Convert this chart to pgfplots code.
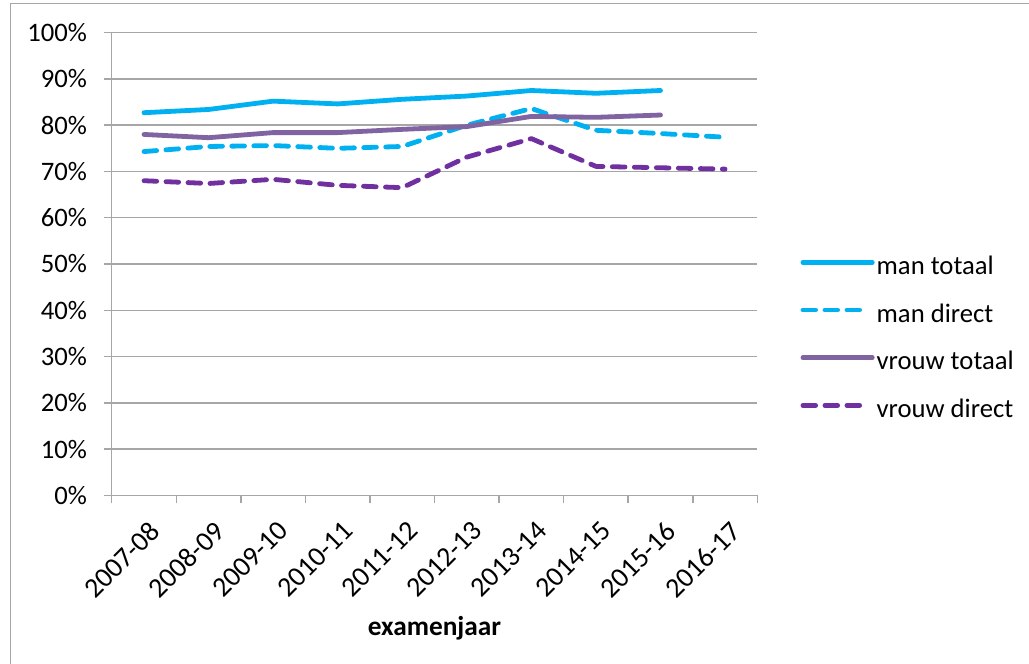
\documentclass[border=0pt]{standalone}
\usepackage{fontspec}
\setmainfont{Carlito}
\usepackage{pgfplots}
\pgfplotsset{compat=1.18}
\definecolor{mancyan}{HTML}{00B0F0}
\definecolor{vtot}{HTML}{8064A2}
\definecolor{vdir}{HTML}{7030A0}
\definecolor{gridgray}{HTML}{A6A6A6}
\pgfplotsset{
  longleg/.style={legend image code/.code={\draw[##1] (0pt,4.5pt) -- (52pt,4.5pt);}},
  shortleg/.style={legend image code/.code={\draw[##1] (0pt,4.5pt) -- (44pt,4.5pt);}},
}
\begin{document}
\begin{tikzpicture}[font=\fontsize{20}{24}\selectfont]
\path[use as bounding box] (0,0) rectangle (771.75pt,498pt);
\draw[gridgray, line width=1.1pt] (7.9pt,0) -- (7.9pt,495.4pt) -- (771.75pt,495.4pt);
\begin{axis}[
  at={(83.8pt,126.5pt)}, anchor=south west,
  scale only axis, width=484.2pt, height=347pt,
  xmin=-0.5, xmax=9.5, ymin=0, ymax=100,
  axis x line*=bottom, axis y line*=left,
  axis line style={draw=gridgray, line width=1.1pt, -},
  ytick={0,10,...,100},
  yticklabels={0\%,10\%,20\%,30\%,40\%,50\%,60\%,70\%,80\%,90\%,100\%},
  yticklabel style={xshift=-9pt},
  ymajorgrids, grid style={draw=gridgray, line width=1.1pt},
  tick align=outside, major tick length=6pt,
  tick style={draw=gridgray, line width=1.1pt},
  xtick={0,...,9},
  xtick style={draw=none},
  xticklabels={2007-08,2008-09,2009-10,2010-11,2011-12,2012-13,2013-14,2014-15,2015-16,2016-17},
  xticklabel style={font=\fontsize{21}{24}\selectfont, xshift=3pt, yshift=-12pt, rotate=45, anchor=north east, inner sep=0pt},
  extra x ticks={-0.5,0.5,...,9.5},
  extra x tick labels={},
  extra x tick style={xtick style={draw=gridgray, line width=1.1pt}, grid=none},
  xlabel={\fontsize{20.5}{24}\selectfont\bfseries examenjaar},
  xlabel style={at={(axis description cs:0.5,0)}, anchor=center, yshift=-99.5pt},
  legend style={at={(1.0665,0.336)}, anchor=west, draw=none, fill=none, inner sep=0pt,
    row sep=18.8pt, nodes={inner sep=0pt, text height=13pt, text depth=4pt}},
  legend cell align=left,
  longleg,
  every axis plot/.append style={line width=3.6pt, line cap=round, line join=round},
]
\addplot[mancyan] coordinates {(0,82.7)(1,83.4)(2,85.2)(3,84.6)(4,85.6)(5,86.3)(6,87.5)(7,86.9)(8,87.5)};
\addlegendentry{\hspace{1.5pt}man totaal}
\addplot[mancyan, dash pattern=on 9.5pt off 7pt, shortleg] coordinates {(0,74.3)(1,75.4)(2,75.6)(3,75.0)(4,75.4)(5,80.0)(6,83.6)(7,78.9)(8,78.2)(9,77.4)};
\addlegendentry{\hspace{1.5pt}man direct}
\addplot[vtot] coordinates {(0,78.0)(1,77.3)(2,78.4)(3,78.4)(4,79.1)(5,79.7)(6,81.9)(7,81.7)(8,82.2)};
\addlegendentry{\hspace{1.5pt}vrouw totaal}
\addplot[vdir, dash pattern=on 9.5pt off 7pt, shortleg] coordinates {(0,68.0)(1,67.4)(2,68.3)(3,67.0)(4,66.5)(5,73.1)(6,77.1)(7,71.1)(8,70.8)(9,70.5)};
\addlegendentry{\hspace{1.5pt}vrouw direct}
\end{axis}
\end{tikzpicture}
\end{document}
